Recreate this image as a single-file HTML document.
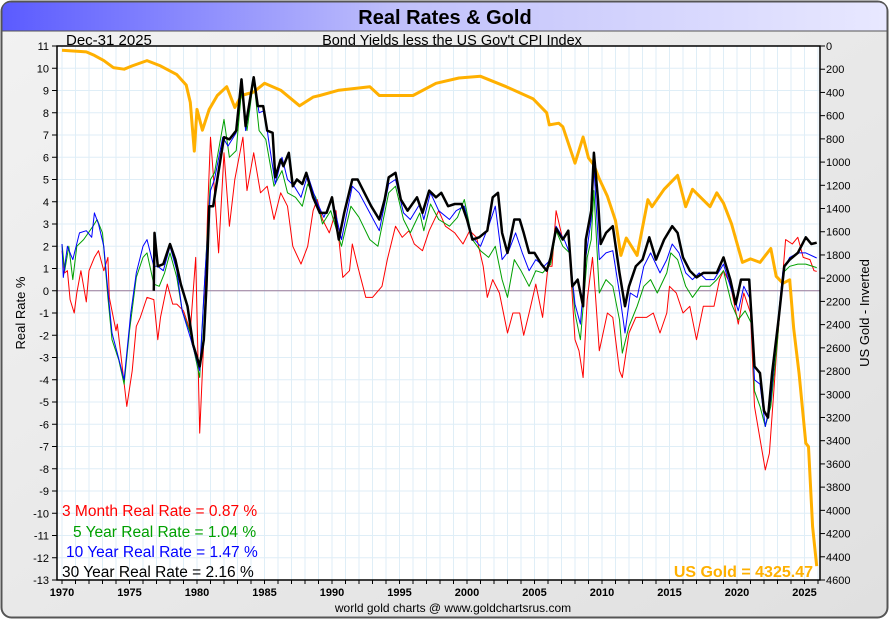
<!DOCTYPE html>
<html><head><meta charset="utf-8"><style>
html,body{margin:0;padding:0;background:#fff;}
body{width:890px;height:620px;overflow:hidden;font-family:"Liberation Sans",sans-serif;}
</style></head><body>
<svg id="chart" width="890" height="620" xmlns="http://www.w3.org/2000/svg" font-family="Liberation Sans, sans-serif">
<defs>
<linearGradient id="tb" x1="0" x2="1" y1="0" y2="0"><stop offset="0" stop-color="#5b5bff"/><stop offset="0.45" stop-color="#c0c0fb"/><stop offset="1" stop-color="#e8e8ff"/></linearGradient>
<linearGradient id="bg" x1="0" x2="1" y1="0" y2="1"><stop offset="0" stop-color="#f2f2f2"/><stop offset="1" stop-color="#e0e0e0"/></linearGradient>
</defs>
<rect x="1.5" y="1.5" width="886" height="616" rx="10" fill="url(#bg)" stroke="#555" stroke-width="2"/>
<path d="M2.5 31 V11 Q2.5 2.5 11 2.5 H877 Q886.5 2.5 886.5 11 V31 Z" fill="url(#tb)"/>
<line x1="2" y1="31" x2="887" y2="31" stroke="#555" stroke-width="1"/>
<text x="445" y="24" text-anchor="middle" font-size="20" font-weight="bold" fill="#000">Real Rates &amp; Gold</text>
<text x="66" y="45" font-size="15" fill="#000">Dec-31  2025</text>
<text x="452" y="45" text-anchor="middle" font-size="14.5" fill="#000">Bond Yields less the US Gov't CPI Index</text>
<rect x="57" y="46" width="763" height="534" fill="#fff"/>
<g id="grid"></g>
<g id="axes"></g>
<g id="series"></g>
<rect x="57" y="46" width="763" height="534" fill="none" stroke="#000" stroke-width="1.5"/>
<text transform="translate(25,313) rotate(-90)" text-anchor="middle" font-size="13">Real Rate %</text>
<text transform="translate(869,313) rotate(-90)" text-anchor="middle" font-size="13">US Gold - Inverted</text>
<text x="62" y="516" font-size="15.5" fill="#ff0000">3 Month Real Rate = 0.87 %</text>
<text x="73" y="537" font-size="15.5" fill="#00a000">5 Year Real Rate = 1.04 %</text>
<text x="66" y="557" font-size="15.5" fill="#0000ff">10 Year Real Rate = 1.47 %</text>
<text x="62" y="577" font-size="15.5" fill="#000">30 Year Real Rate = 2.16 %</text>
<text x="813" y="577" text-anchor="end" font-size="16" font-weight="bold" fill="#ffb000">US Gold = 4325.47</text>
<text x="453" y="612" text-anchor="middle" font-size="12">world gold charts @ www.goldchartsrus.com</text>
</svg>
<script>
const yTicks=[11,10,9,8,7,6,5,4,3,2,1,0,-1,-2,-3,-4,-5,-6,-7,-8,-9,-10,-11,-12,-13];
const goldTicks=[0,200,400,600,800,1000,1200,1400,1600,1800,2000,2200,2400,2600,2800,3000,3200,3400,3600,3800,4000,4200,4400,4600];
const xTickLabels=[1970,1975,1980,1985,1990,1995,2000,2005,2010,2015,2020,2025];

const redYears=[1970.0,1970.2,1970.4,1970.6,1970.9,1971.1,1971.4,1971.8,1972.0,1972.4,1972.7,1973.1,1973.4,1973.5,1974.0,1974.1,1974.8,1975.2,1975.5,1975.8,1976.3,1976.8,1977.1,1977.3,1977.8,1978.2,1978.5,1979.0,1979.5,1979.9,1980.2,1980.5,1980.8,1981.0,1981.3,1981.6,1982.0,1982.4,1982.8,1983.4,1983.7,1984.2,1984.7,1985.2,1985.7,1986.2,1986.7,1987.1,1987.7,1988.2,1988.6,1988.9,1989.3,1989.8,1990.3,1990.8,1991.3,1991.5,1991.9,1992.5,1993.0,1993.7,1994.1,1994.7,1995.2,1995.7,1996.1,1996.7,1997.2,1997.9,1998.4,1999.1,1999.7,2000.2,2000.7,2001.2,2001.5,2001.9,2002.4,2003.0,2003.4,2003.9,2004.2,2004.6,2005.1,2005.6,2006.0,2006.3,2006.6,2007.1,2007.5,2008.0,2008.3,2008.6,2008.9,2009.3,2009.5,2009.8,2010.4,2010.8,2011.3,2011.5,2012.0,2012.5,2013.3,2013.8,2014.3,2014.8,2015.0,2015.5,2016.0,2016.5,2017.0,2017.5,2018.3,2018.7,2019.0,2019.5,2020.1,2020.5,2021.0,2021.3,2021.8,2022.1,2022.4,2022.9,2023.4,2023.6,2024.1,2024.5,2024.9,2025.4,2025.7,2025.9];
const redValues=[1.8,0.8,0.9,-0.4,-1.0,-0.1,0.9,-0.5,0.9,1.5,1.8,0.9,1.5,-0.3,-1.8,-1.5,-5.2,-3.6,-1.6,-1.2,-0.3,-0.4,-2.2,-1.2,0.3,-0.6,-0.6,-0.9,-1.8,1.5,-6.4,-2.2,3.8,6.9,4.5,1.7,6.2,2.9,5.0,6.9,4.5,6.2,4.4,4.7,3.2,4.4,3.8,2.0,1.2,2.0,3.6,4.1,3.2,2.6,3.6,0.6,0.9,2.1,1.1,-0.3,-0.3,0.2,1.4,2.9,2.4,2.7,2.1,1.8,2.7,3.6,2.9,2.6,2.1,2.7,2.4,1.1,-0.3,0.5,-0.1,-1.9,-1.0,-1.0,-2.0,-1.0,0.3,-1.2,1.1,1.1,3.6,2.3,2.6,-2.2,-2.7,-3.9,-0.4,1.5,-0.1,-2.7,-1.0,-1.2,-3.6,-3.9,-1.9,-1.2,-1.2,-1.0,-1.9,-1.0,0.2,-0.1,-1.0,-0.7,-2.2,-0.7,-0.7,0.5,0.9,0.3,-1.5,-0.1,-1.0,-5.2,-7.0,-8.05,-7.3,-3.0,0.8,2.3,2.1,2.4,1.5,1.4,0.9,0.87];

const greenYears=[1970.0,1970.2,1970.5,1970.8,1971.1,1971.6,1972.3,1972.6,1973.0,1973.4,1973.7,1974.2,1974.6,1975.0,1975.5,1976.0,1976.3,1976.8,1977.2,1977.6,1978.0,1978.5,1978.9,1979.5,1980.2,1980.6,1981.0,1981.3,1982.0,1982.4,1982.9,1983.3,1983.7,1984.2,1984.6,1985.1,1985.7,1986.3,1986.7,1987.3,1987.8,1988.2,1988.8,1989.3,1989.9,1990.7,1991.4,1992.0,1992.8,1993.4,1994.2,1994.7,1995.3,1995.8,1996.5,1996.8,1997.3,1997.9,1998.7,1999.3,1999.8,2000.4,2001.0,2001.6,2002.1,2002.6,2003.0,2003.5,2004.0,2004.6,2005.1,2005.6,2006.2,2006.6,2007.1,2007.6,2008.0,2008.4,2008.9,2009.2,2009.4,2009.8,2010.3,2010.8,2011.3,2011.5,2012.0,2012.6,2013.1,2013.6,2014.1,2014.8,2015.1,2015.6,2016.2,2016.7,2017.3,2018.0,2018.5,2019.0,2019.6,2020.1,2020.6,2021.1,2021.3,2021.7,2022.1,2022.5,2023.0,2023.4,2023.9,2024.5,2025.1,2025.9];
const greenValues=[2.1,0.9,2.0,0.5,2.0,2.3,2.9,3.2,2.6,-0.3,-2.2,-3.1,-4.2,-1.8,0.6,1.5,1.7,0.3,0.2,0.8,1.7,0.6,-0.9,-1.9,-3.9,0.8,5.0,5.3,7.7,6.0,6.3,9.0,7.2,9.5,7.2,6.8,4.7,5.4,4.4,4.2,3.8,4.8,4.2,3.0,3.6,2.0,3.8,3.3,2.3,2.0,4.4,4.7,3.2,2.6,3.5,2.7,3.9,3.2,2.9,3.3,4.1,2.3,1.8,1.5,2.0,0.5,-0.3,1.4,0.9,0.2,0.9,0.8,1.2,2.7,2.0,1.7,-1.0,-2.2,1.5,2.3,4.5,-0.1,0.5,0.2,-1.3,-2.8,-1.6,-0.7,0.2,0.5,-0.1,0.8,1.7,1.4,0.2,-0.3,0.2,0.2,0.5,0.9,-0.6,-1.3,-0.9,-1.5,-4.5,-5.2,-6.1,-5.2,-2.2,0.8,1.1,1.2,1.2,1.04];

const blueYears=[1970.0,1970.1,1970.4,1970.8,1971.3,1971.8,1972.2,1972.4,1972.7,1973.1,1973.4,1973.7,1974.1,1974.6,1975.1,1975.5,1976.0,1976.3,1976.8,1977.1,1977.5,1978.0,1978.5,1978.9,1979.5,1980.2,1980.6,1981.0,1981.3,1981.9,1982.3,1982.9,1983.3,1983.6,1984.2,1984.6,1985.0,1985.3,1985.8,1986.3,1986.7,1987.2,1987.7,1988.2,1988.8,1989.4,1990.0,1990.7,1991.5,1992.0,1992.8,1993.5,1994.2,1994.7,1995.3,1995.8,1996.5,1996.8,1997.3,1997.9,1998.7,1999.2,1999.8,2000.4,2001.0,2001.6,2002.1,2002.6,2003.1,2003.6,2004.1,2004.6,2005.1,2005.7,2006.2,2006.6,2007.2,2007.6,2008.0,2008.4,2008.8,2009.2,2009.4,2009.8,2010.3,2010.8,2011.3,2011.7,2012.1,2012.6,2013.1,2013.6,2014.3,2014.8,2015.2,2015.7,2016.2,2016.7,2017.2,2017.7,2018.3,2019.0,2019.6,2020.1,2020.5,2021.0,2021.3,2021.7,2022.1,2022.5,2023.0,2023.4,2023.9,2024.5,2025.1,2025.9];
const blueValues=[2.1,0.6,2.0,1.4,2.6,2.7,2.4,3.5,3.0,2.0,0.0,-1.9,-2.8,-4.0,-1.0,0.8,2.0,2.3,1.1,1.1,0.9,2.0,0.9,-0.9,-2.1,-3.6,0.8,4.5,5.0,6.9,6.5,7.1,9.5,7.2,9.55,8.0,8.1,6.8,4.8,6.0,5.0,4.7,4.2,5.2,4.1,3.3,4.2,2.3,4.7,4.4,3.5,2.7,4.8,5.0,3.5,3.2,3.9,3.2,4.4,3.6,3.2,3.6,3.8,2.4,2.0,2.9,3.8,1.4,1.8,2.6,1.7,0.9,1.4,1.1,1.4,2.9,2.3,1.7,-0.6,-1.5,1.5,3.2,5.6,1.4,1.7,1.8,-0.1,-1.9,-0.1,-0.3,1.1,1.7,0.8,1.4,2.1,1.7,0.8,0.5,0.8,0.5,0.5,1.2,0.0,-0.9,0.2,-0.4,-4.0,-4.2,-6.1,-4.9,-1.6,0.9,1.5,1.7,1.7,1.47];

const blackYears=[1976.8,1976.85,1977.1,1977.5,1978.0,1978.4,1978.8,1979.3,1979.7,1980.2,1980.5,1980.7,1980.9,1981.2,1981.5,1982.0,1982.4,1982.9,1983.3,1983.6,1984.2,1984.5,1984.9,1985.2,1985.6,1985.8,1986.2,1986.4,1986.8,1987.1,1987.4,1987.8,1988.1,1988.6,1989.1,1989.6,1990.0,1990.5,1990.9,1991.5,1991.9,1992.4,1992.9,1993.5,1993.9,1994.2,1994.7,1995.1,1995.6,1996.3,1996.7,1997.2,1997.7,1998.1,1998.6,1999.1,1999.6,2000.0,2000.4,2000.9,2001.5,2001.9,2002.3,2002.6,2003.0,2003.5,2003.9,2004.2,2004.6,2005.0,2005.5,2005.9,2006.2,2006.6,2007.1,2007.5,2007.8,2008.2,2008.6,2008.8,2009.2,2009.4,2009.7,2009.9,2010.3,2010.8,2011.3,2011.7,2012.0,2012.5,2013.0,2013.5,2014.0,2014.6,2015.2,2015.6,2016.0,2016.5,2017.0,2017.5,2018.0,2018.5,2019.0,2019.5,2019.9,2020.3,2020.9,2021.3,2021.7,2022.0,2022.3,2022.6,2023.1,2023.5,2023.9,2024.5,2025.1,2025.5,2025.9];
const blackValues=[0.0,2.6,1.1,1.2,2.1,1.4,0.3,-0.7,-2.4,-3.4,-2.2,0.25,3.8,3.8,5.0,6.9,6.8,7.2,9.5,7.4,9.6,8.3,8.3,7.2,7.1,5.1,5.9,5.6,6.2,4.7,5.0,4.8,5.3,4.2,3.5,3.5,4.2,2.3,3.5,5.0,5.0,4.4,3.8,3.2,4.1,5.1,5.3,4.1,3.6,4.2,3.5,4.5,4.2,4.4,3.8,3.9,3.9,3.2,2.3,2.4,2.7,4.2,4.4,2.6,1.7,3.2,3.2,2.6,1.7,1.7,1.2,0.9,1.5,2.8,2.3,2.7,0.2,0.5,-0.7,2.3,3.6,6.2,4.1,2.1,2.6,2.9,0.8,-0.7,0.2,1.1,1.4,2.4,1.4,2.3,2.9,2.6,1.5,0.9,0.6,0.8,0.8,0.8,1.5,0.5,-0.6,0.5,0.5,-3.4,-3.7,-5.4,-5.7,-3.7,-1.2,1.1,1.4,1.7,2.4,2.1,2.16];

const goldYears=[1970.0,1971.8,1972.4,1973.1,1973.8,1974.6,1975.2,1976.3,1977.3,1978.5,1979.2,1979.5,1979.8,1980.0,1980.4,1980.9,1981.5,1982.2,1982.8,1983.3,1984.2,1985.0,1986.2,1987.6,1988.6,1989.1,1990.5,1992.8,1993.5,1996.0,1997.7,1999.4,2001.0,2002.9,2004.9,2005.9,2006.1,2006.8,2007.1,2008.0,2008.6,2009.0,2009.4,2009.8,2010.4,2011.0,2011.4,2011.8,2012.6,2013.4,2013.7,2014.6,2015.6,2016.2,2016.7,2018.0,2018.5,2019.0,2019.6,2020.4,2021.0,2021.7,2022.5,2022.9,2023.4,2023.9,2024.2,2024.6,2025.1,2025.3,2025.6,2025.9];
const goldValues=[36,51,81,126,186,200,171,126,171,246,336,486,905,546,725,546,426,351,530,426,396,321,381,515,440,426,381,351,426,426,321,276,261,351,456,575,680,665,695,1010,785,965,1025,1145,1295,1504,1804,1654,1804,1324,1384,1234,1115,1384,1234,1384,1265,1354,1534,1864,1834,1864,1744,1984,2044,2014,2434,2823,3422,3452,4141,4480];

const NS="http://www.w3.org/2000/svg";
const X0=57,X1=820,Y0=46,Y1=580;
function xS(yr){return 62+(yr-1970)*13.5;}
function yS(v){return Y0+(11-v)*(Y1-Y0)/24;}
function gS(g){return Y0+g*(Y1-Y0)/4600;}
function mk(tag,attrs,parent){const e=document.createElementNS(NS,tag);for(const k in attrs)e.setAttribute(k,attrs[k]);parent.appendChild(e);return e;}
const grid=document.getElementById('grid'),axes=document.getElementById('axes'),ser=document.getElementById('series');
for(let yr=1970;yr<=2026;yr++){
  const x=xS(yr);
  if(x>X0&&x<X1){const l=mk('line',{x1:x,x2:x,y1:Y0,y2:Y1,stroke:'#dfeef7','stroke-width':1},grid);
  
  }
  const t=mk('line',{x1:x,x2:x,y1:Y1,y2:Y1+4,stroke:'#000','stroke-width':1},axes);
  
  
}
yTicks.forEach(v=>{
  const y=yS(v);
  const l=mk('line',{x1:X0,x2:X1,y1:y,y2:y,stroke:'#dfeef7','stroke-width':1},grid);
  
  
  mk('line',{x1:X0-5,x2:X0,y1:y,y2:y,stroke:'#000'},axes);
  const t=mk('text',{x:X0-8,y:y+4,'text-anchor':'end','font-size':11},axes);
  t.textContent=v;
  
  
});
goldTicks.forEach(g=>{
  const y=gS(g);
  mk('line',{x1:X1,x2:X1+5,y1:y,y2:y,stroke:'#000'},axes);
  const t=mk('text',{x:X1+6,y:y+4,'font-size':11},axes);
  t.textContent=g;
  
  
});
xTickLabels.forEach(yr=>{
  const t=mk('text',{x:xS(yr),y:596,'text-anchor':'middle','font-size':11,'font-weight':'bold'},axes);
  t.textContent=yr;
  
  
});
const zl=mk('line',{x1:X0,x2:X1,y1:yS(0),y2:yS(0),stroke:'#9a7a9a','stroke-width':1},grid);


function line(xs,vs,fy,color,w,name){
  const d=xs.map((yr,i)=>(i?'L':'M')+xS(yr).toFixed(1)+' '+fy(vs[i]).toFixed(1)).join(' ');
  const p=mk('path',{d:d,fill:'none',stroke:color,'stroke-width':w,'stroke-linejoin':'round'},ser);
  
  
}
line(goldYears,goldValues,gS,'#ffb000',3,'gold-line');
line(redYears,redValues,yS,'#ff0000',1,'three-month-line');
line(greenYears,greenValues,yS,'#00a000',1,'five-year-line');
line(blueYears,blueValues,yS,'#0000ff',1,'ten-year-line');
line(blackYears,blackValues,yS,'#000000',2.5,'thirty-year-line');
</script>
</body></html>
